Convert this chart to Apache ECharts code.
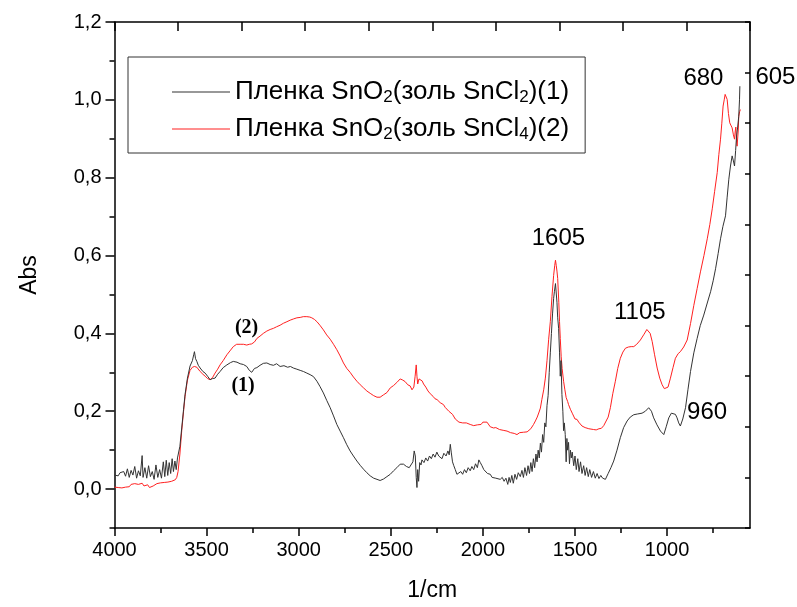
<!DOCTYPE html>
<html><head><meta charset="utf-8">
<script src="https://cdn.jsdelivr.net/npm/echarts@6/dist/echarts.min.js"></script>
<style>html,body{margin:0;padding:0;background:#fff}#c{width:797px;height:607px}</style>
</head><body><div id="c"></div>
<script>
// Spectrum (1): [wavenumber 1/cm, Abs]
const film1 = [
[4000,0.036],[3990,0.040],[3980,0.034],[3970,0.042],[3960,0.038],[3950,0.045],[3940,0.033],[3930,0.052],[3920,0.030],[3910,0.048],
[3900,0.036],[3890,0.058],[3880,0.028],[3870,0.047],[3860,0.034],[3850,0.086],[3845,0.030],[3835,0.055],[3825,0.028],[3815,0.060],
[3805,0.032],[3795,0.045],[3785,0.025],[3775,0.062],[3765,0.030],[3755,0.050],[3745,0.028],[3735,0.070],[3727,0.032],[3719,0.074],
[3711,0.035],[3703,0.068],[3695,0.040],[3687,0.078],[3680,0.045],[3672,0.072],[3665,0.050],[3658,0.080],[3652,0.075],[3645,0.110],
[3635,0.157],[3625,0.205],[3617,0.243],[3604,0.285],[3590,0.316],[3577,0.330],[3570,0.345],[3566,0.353],[3560,0.335],[3553,0.328],
[3545,0.318],[3535,0.311],[3520,0.302],[3508,0.298],[3495,0.290],[3481,0.281],[3467,0.284],[3454,0.285],[3440,0.295],[3427,0.302],
[3410,0.312],[3390,0.319],[3370,0.325],[3355,0.328],[3335,0.326],[3318,0.322],[3300,0.320],[3282,0.315],[3268,0.305],[3255,0.300],
[3240,0.310],[3227,0.312],[3210,0.318],[3192,0.323],[3173,0.324],[3155,0.320],[3137,0.318],[3120,0.322],[3101,0.315],[3080,0.317],
[3060,0.313],[3045,0.315],[3029,0.311],[3010,0.308],[2992,0.305],[2974,0.302],[2956,0.298],[2938,0.294],[2920,0.289],[2901,0.277],
[2885,0.264],[2866,0.247],[2848,0.228],[2829,0.209],[2811,0.188],[2793,0.166],[2775,0.149],[2757,0.132],[2739,0.114],[2721,0.098],
[2703,0.085],[2684,0.072],[2666,0.061],[2648,0.051],[2630,0.042],[2612,0.034],[2593,0.028],[2575,0.025],[2558,0.022],[2539,0.026],
[2521,0.032],[2503,0.038],[2485,0.047],[2467,0.055],[2449,0.064],[2431,0.064],[2415,0.058],[2400,0.055],[2390,0.060],[2380,0.070],
[2373,0.098],[2367,0.085],[2362,0.030],[2358,0.004],[2354,0.050],[2349,0.020],[2343,0.068],[2336,0.062],[2331,0.075],[2320,0.068],
[2310,0.080],[2300,0.072],[2290,0.085],[2280,0.078],[2270,0.090],[2260,0.082],[2250,0.095],[2240,0.085],[2232,0.089],[2222,0.078],
[2212,0.092],[2200,0.085],[2190,0.098],[2183,0.088],[2177,0.115],[2172,0.095],[2165,0.070],[2158,0.060],[2150,0.050],[2141,0.038],
[2132,0.034],[2120,0.045],[2110,0.038],[2100,0.050],[2090,0.042],[2080,0.055],[2069,0.047],[2060,0.058],[2050,0.050],[2040,0.065],
[2030,0.055],[2022,0.075],[2014,0.068],[2005,0.060],[1995,0.050],[1985,0.045],[1975,0.040],[1960,0.038],[1950,0.030],[1940,0.035],
[1930,0.028],[1920,0.032],[1906,0.025],[1895,0.030],[1885,0.020],[1875,0.028],[1865,0.012],[1858,0.030],[1851,0.017],[1843,0.035],
[1835,0.015],[1826,0.038],[1817,0.025],[1808,0.042],[1797,0.032],[1788,0.048],[1780,0.030],[1772,0.055],[1763,0.035],[1755,0.060],
[1747,0.040],[1740,0.068],[1733,0.045],[1726,0.078],[1719,0.055],[1712,0.090],[1706,0.070],[1700,0.100],[1694,0.080],[1688,0.118],
[1682,0.095],[1676,0.140],[1670,0.120],[1664,0.170],[1658,0.160],[1652,0.215],[1646,0.240],[1640,0.300],[1634,0.350],[1628,0.400],
[1622,0.450],[1616,0.490],[1612,0.507],[1606,0.528],[1603,0.525],[1598,0.480],[1594,0.440],[1589,0.413],[1584,0.350],[1580,0.290],
[1576,0.330],[1571,0.243],[1566,0.200],[1562,0.150],[1558,0.170],[1553,0.140],[1548,0.070],[1544,0.130],[1540,0.100],[1535,0.120],
[1530,0.065],[1525,0.100],[1520,0.080],[1515,0.095],[1507,0.060],[1500,0.085],[1493,0.050],[1485,0.078],[1478,0.045],[1470,0.070],
[1462,0.040],[1453,0.060],[1445,0.035],[1437,0.055],[1428,0.032],[1420,0.050],[1410,0.030],[1400,0.045],[1390,0.028],[1380,0.040],
[1370,0.027],[1360,0.035],[1350,0.028],[1340,0.030],[1335,0.025],[1320,0.040],[1305,0.055],[1290,0.072],[1272,0.100],[1254,0.132],
[1236,0.158],[1217,0.175],[1200,0.185],[1181,0.191],[1160,0.193],[1136,0.195],[1118,0.200],[1100,0.209],[1085,0.200],[1073,0.183],
[1055,0.165],[1036,0.149],[1018,0.140],[1005,0.160],[991,0.183],[977,0.195],[967,0.198],[955,0.192],[946,0.183],[937,0.170],
[928,0.162],[915,0.180],[900,0.209],[887,0.255],[873,0.302],[855,0.350],[837,0.387],[820,0.420],[801,0.447],[782,0.478],
[764,0.507],[750,0.535],[737,0.566],[723,0.605],[710,0.643],[697,0.675],[683,0.702],[674,0.750],[665,0.796],[656,0.830],
[647,0.856],[640,0.843],[634,0.830],[628,0.870],[623,0.907],[617,0.930],[611,0.958],[607,1.000],[605,1.035]
];
// Spectrum (2)
const film2 = [
[4000,0.005],[3990,0.007],[3980,0.004],[3970,0.006],[3960,0.003],[3950,0.008],[3940,0.005],[3930,0.010],[3920,0.006],[3910,0.012],
[3900,0.008],[3890,0.014],[3880,0.009],[3870,0.012],[3860,0.007],[3850,0.015],[3840,0.008],[3830,0.005],[3820,0.011],[3810,0.004],
[3800,0.003],[3790,0.008],[3780,0.010],[3770,0.014],[3760,0.012],[3750,0.016],[3740,0.013],[3730,0.017],[3720,0.014],[3710,0.018],
[3700,0.016],[3690,0.020],[3680,0.020],[3670,0.024],[3662,0.030],[3655,0.045],[3645,0.090],[3635,0.150],[3625,0.200],[3617,0.238],
[3604,0.280],[3590,0.305],[3577,0.313],[3566,0.315],[3553,0.313],[3535,0.302],[3520,0.295],[3508,0.290],[3495,0.284],[3481,0.281],
[3467,0.287],[3454,0.298],[3440,0.308],[3427,0.319],[3410,0.330],[3390,0.345],[3370,0.357],[3355,0.366],[3337,0.372],[3318,0.372],
[3300,0.372],[3282,0.370],[3268,0.372],[3255,0.373],[3240,0.378],[3227,0.387],[3210,0.393],[3192,0.400],[3173,0.406],[3155,0.410],
[3137,0.413],[3120,0.417],[3101,0.421],[3083,0.426],[3064,0.430],[3046,0.434],[3029,0.437],[3010,0.440],[2992,0.441],[2975,0.443],
[2956,0.443],[2940,0.442],[2929,0.440],[2915,0.436],[2901,0.430],[2885,0.421],[2866,0.409],[2848,0.396],[2829,0.385],[2811,0.372],
[2793,0.358],[2775,0.342],[2757,0.324],[2739,0.310],[2721,0.300],[2703,0.288],[2684,0.277],[2666,0.268],[2648,0.260],[2630,0.252],
[2612,0.246],[2593,0.240],[2575,0.236],[2558,0.236],[2540,0.242],[2521,0.248],[2503,0.260],[2485,0.266],[2467,0.274],[2449,0.283],
[2435,0.280],[2422,0.276],[2408,0.268],[2395,0.265],[2385,0.255],[2375,0.262],[2368,0.290],[2362,0.319],[2358,0.290],[2354,0.270],
[2347,0.283],[2340,0.281],[2330,0.278],[2322,0.270],[2310,0.262],[2298,0.252],[2286,0.245],[2270,0.238],[2260,0.232],[2249,0.230],
[2240,0.228],[2232,0.222],[2222,0.220],[2214,0.217],[2205,0.210],[2195,0.205],[2185,0.200],[2175,0.195],[2165,0.192],[2159,0.189],
[2150,0.180],[2141,0.175],[2130,0.172],[2120,0.168],[2110,0.170],[2100,0.166],[2090,0.170],[2080,0.165],[2069,0.166],[2060,0.168],
[2050,0.163],[2040,0.168],[2030,0.165],[2020,0.170],[2010,0.166],[2000,0.172],[1990,0.175],[1978,0.172],[1970,0.168],[1960,0.160],
[1950,0.162],[1942,0.157],[1930,0.158],[1920,0.155],[1910,0.153],[1900,0.156],[1890,0.151],[1880,0.150],[1869,0.149],[1860,0.152],
[1850,0.145],[1840,0.148],[1830,0.143],[1815,0.140],[1800,0.145],[1790,0.140],[1780,0.146],[1770,0.143],[1760,0.147],[1750,0.150],
[1740,0.155],[1730,0.160],[1725,0.166],[1715,0.175],[1705,0.185],[1695,0.198],[1688,0.208],[1680,0.230],[1670,0.255],[1661,0.285],
[1652,0.330],[1643,0.385],[1634,0.430],[1625,0.495],[1616,0.549],[1610,0.575],[1606,0.588],[1602,0.575],[1598,0.560],[1594,0.541],
[1588,0.480],[1584,0.430],[1580,0.387],[1575,0.340],[1570,0.310],[1562,0.277],[1555,0.255],[1548,0.235],[1540,0.225],[1535,0.217],
[1525,0.205],[1515,0.195],[1507,0.190],[1500,0.180],[1495,0.185],[1489,0.179],[1480,0.172],[1470,0.168],[1462,0.162],[1453,0.162],
[1445,0.158],[1435,0.160],[1425,0.155],[1415,0.156],[1399,0.153],[1385,0.152],[1370,0.155],[1357,0.156],[1344,0.163],[1335,0.163],
[1320,0.185],[1308,0.209],[1295,0.245],[1281,0.277],[1268,0.310],[1254,0.336],[1240,0.352],[1226,0.362],[1210,0.365],[1195,0.366],
[1181,0.366],[1165,0.372],[1145,0.383],[1125,0.398],[1110,0.410],[1103,0.413],[1092,0.400],[1081,0.379],[1068,0.345],[1054,0.311],
[1040,0.285],[1027,0.268],[1015,0.258],[1005,0.255],[995,0.262],[982,0.285],[968,0.312],[955,0.336],[940,0.348],[928,0.353],
[910,0.365],[891,0.383],[873,0.425],[855,0.472],[837,0.515],[819,0.558],[800,0.600],[782,0.643],[768,0.680],[755,0.720],
[742,0.765],[728,0.813],[719,0.860],[710,0.899],[703,0.940],[696,0.984],[690,1.000],[685,1.014],[680,1.010],[674,1.001],
[667,0.965],[660,0.941],[654,0.935],[647,0.928],[640,0.910],[634,0.899],[630,0.920],[627,0.930],[623,0.895],[620,0.881],
[614,0.920],[611,0.958],[606,0.970],[602,0.975]
];
const seriesNames = ['Пленка SnO2(золь SnCl2)(1)', 'Пленка SnO2(золь SnCl4)(2)'];
const legendRich = {
  'Пленка SnO2(золь SnCl2)(1)': '{t|Пленка SnO}{s|2}{t|(золь SnCl}{s|2}{t|)(1)}',
  'Пленка SnO2(золь SnCl4)(2)': '{t|Пленка SnO}{s|2}{t|(золь SnCl}{s|4}{t|)(2)}'
};
const xMajorTicks = [4000, 3500, 3000, 2500, 2000, 1500, 1000];
const xMinorTicks = [3750, 3250, 2750, 2250, 1750, 1250, 750];
const yMajorTicks = [0, 0.2, 0.4, 0.6, 0.8, 1.0, 1.2];
const yMinorTicks = [-0.1, 0.1, 0.3, 0.5, 0.7, 0.9, 1.1];
// peak annotations: text anchored at [wavenumber, Abs]
const peakLabels = [
  {text: '1605', wn: 1590, abs: 0.643},
  {text: '1105', wn: 1148, abs: 0.454},
  {text: '960',  wn: 783,  abs: 0.198},
  {text: '680',  wn: 803,  abs: 1.054},
  {text: '605',  wn: 412,  abs: 1.059}
];
const curveLabels = [
  {text: '(2)', wn: 3283, abs: 0.413},
  {text: '(1)', wn: 3302, abs: 0.265}
];

const SANS = "'Liberation Sans', Arial, sans-serif";
const SERIF = "'Liberation Serif', 'Times New Roman', serif";
const chart = echarts.init(document.getElementById('c'), null, {renderer: 'canvas'});
const axisLine = {show: true, onZero: false, lineStyle: {color: '#000', width: 1.5}};
const noLine = {show: false, onZero: false};
const option = {
  animation: false,
  backgroundColor: '#fff',
  grid: {left: 114.5, right: 47, top: 22, bottom: 76, containLabel: false},
  legend: {
    orient: 'vertical', left: 128, top: 57,
    padding: [22, 16, 10, 44], itemGap: 10,
    borderColor: '#333', borderWidth: 1, backgroundColor: '#fff',
    itemWidth: 58, itemHeight: 1, icon: 'rect',
    data: seriesNames,
    formatter: n => legendRich[n],
    textStyle: {
      fontFamily: SANS, fontSize: 26, color: '#000',
      rich: {
        t: {fontFamily: SANS, fontSize: 26, lineHeight: 28, color: '#000'},
        s: {fontFamily: SANS, fontSize: 17, lineHeight: 12, verticalAlign: 'bottom', color: '#000'}
      }
    }
  },
  xAxis: [
    {type: 'value', position: 'bottom', min: 550, max: 4000, inverse: true,
     name: '1/cm', nameLocation: 'middle', nameGap: 51,
     nameTextStyle: {fontFamily: SANS, fontSize: 23, color: '#000'},
     axisLine: axisLine,
     axisTick: {show: true, inside: false, length: 8, customValues: xMajorTicks, lineStyle: {color: '#000', width: 1.5}},
     axisLabel: {show: true, customValues: xMajorTicks, margin: 12, fontFamily: SANS, fontSize: 20, color: '#000',
                 formatter: v => String(v)},
     splitLine: {show: false}},
    {type: 'value', position: 'bottom', min: 550, max: 4000, inverse: true,
     axisLine: noLine,
     axisTick: {show: true, inside: false, length: 5, customValues: xMinorTicks, lineStyle: {color: '#000', width: 1.5}},
     axisLabel: {show: false}, splitLine: {show: false}},
    {type: 'value', position: 'top', min: 0, max: 10, interval: 1,
     axisLine: axisLine,
     axisTick: {show: true, inside: true, length: 9, lineStyle: {color: '#000', width: 1.5}},
     axisLabel: {show: false}, splitLine: {show: false}}
  ],
  yAxis: [
    {type: 'value', position: 'left', min: -0.1, max: 1.2,
     name: 'Abs', nameLocation: 'middle', nameGap: 73, nameRotate: 90,
     nameTextStyle: {fontFamily: SANS, fontSize: 23, color: '#000'},
     axisLine: axisLine,
     axisTick: {show: true, inside: false, length: 9, customValues: yMajorTicks, lineStyle: {color: '#000', width: 1.5}},
     axisLabel: {show: true, customValues: yMajorTicks, margin: 13, fontFamily: SANS, fontSize: 20, color: '#000',
                 formatter: v => v.toFixed(1).replace('.', ',')},
     splitLine: {show: false}},
    {type: 'value', position: 'left', min: -0.1, max: 1.2,
     axisLine: noLine,
     axisTick: {show: true, inside: false, length: 5, customValues: yMinorTicks, lineStyle: {color: '#000', width: 1.5}},
     axisLabel: {show: false}, splitLine: {show: false}},
    {type: 'value', position: 'right', min: 0, max: 10, interval: 1,
     axisLine: axisLine,
     axisTick: {show: true, inside: true, length: 5, lineStyle: {color: '#000', width: 1.5}},
     axisLabel: {show: false}, splitLine: {show: false}}
  ],
  series: [
    {name: seriesNames[0], type: 'line', xAxisIndex: 0, yAxisIndex: 0, data: film1,
     showSymbol: false, symbol: 'none', color: '#333333', lineStyle: {width: 1, color: '#333333'}, z: 3},
    {name: seriesNames[1], type: 'line', xAxisIndex: 0, yAxisIndex: 0, data: film2,
     showSymbol: false, symbol: 'none', color: '#ff2020', lineStyle: {width: 1, color: '#ff2020'}, z: 2}
  ]
};
chart.setOption(option);

function toPx(wn, abs) { return chart.convertToPixel({xAxisIndex: 0, yAxisIndex: 0}, [wn, abs]); }
const graphics = [];
peakLabels.forEach(p => {
  const [x, y] = toPx(p.wn, p.abs);
  graphics.push({type: 'text', x: x, y: y, z: 10,
    style: {text: p.text, fontFamily: SANS, fontSize: 24, fill: '#000', align: 'center', verticalAlign: 'middle'}});
});
curveLabels.forEach(p => {
  const [x, y] = toPx(p.wn, p.abs);
  graphics.push({type: 'text', x: x, y: y, z: 10,
    style: {text: p.text, fontFamily: SERIF, fontWeight: 'bold', fontSize: 20, fill: '#000', align: 'center', verticalAlign: 'middle'}});
});
chart.setOption({graphic: graphics});
</script>
</body></html>
